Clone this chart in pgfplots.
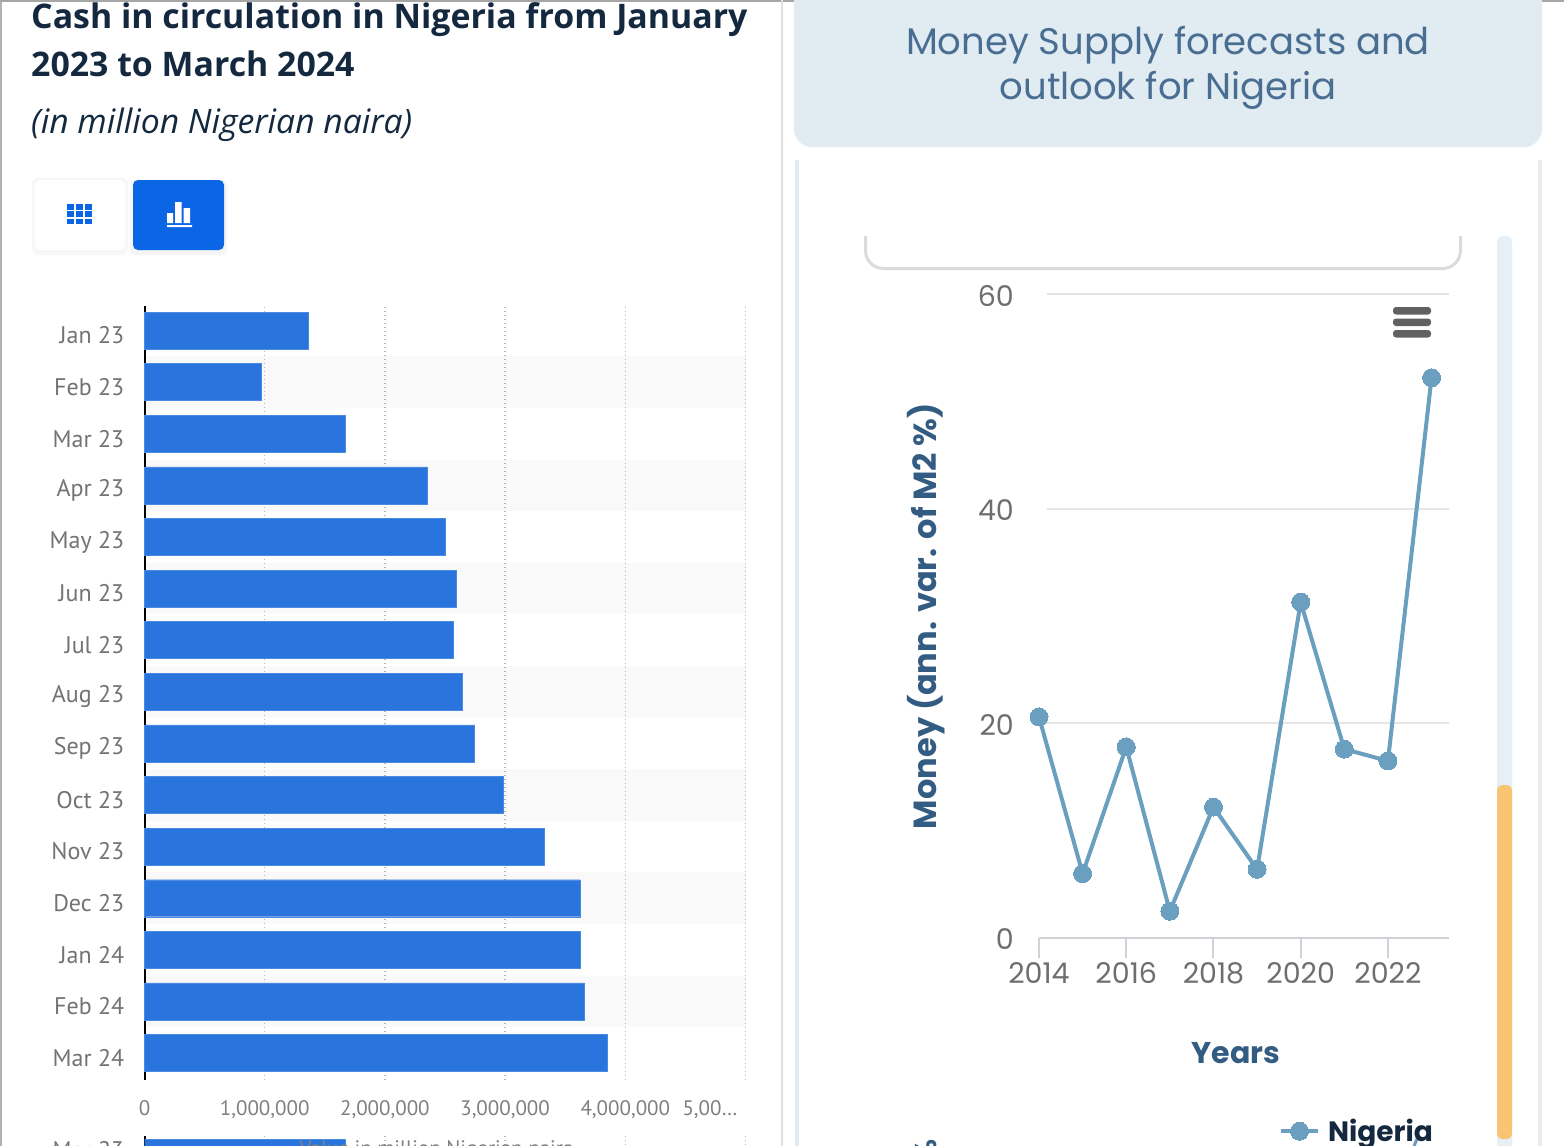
\documentclass[border=0pt]{standalone}
\usepackage{fontspec}
\setmainfont{Open Sans}
\newfontfamily\mont{Poppins}
\newfontfamily\rob{PT Sans}
\usepackage{pgfplots}
\pgfplotsset{compat=1.18}
\definecolor{navy}{HTML}{14293F}
\definecolor{barblue}{HTML}{2A75DD}
\definecolor{btnblue}{HTML}{0A66E4}
\definecolor{panel}{HTML}{E0EBF2}
\definecolor{titleblue}{HTML}{4A6E92}
\definecolor{labelblue}{HTML}{335C82}
\definecolor{linecol}{HTML}{6B9FBF}
\definecolor{tickgray}{HTML}{6E6E6E}
\definecolor{scrollorange}{HTML}{F8C471}
\newcommand{\fs}[1]{\fontsize{#1}{#1}\selectfont}
\pgfplotsset{
  cashaxis/.style={
    scale only axis, width=601pt,
    xmin=0, xmax=5000000,
    axis x line*=bottom, axis y line*=left,
    x axis line style={draw=none},
    y axis line style={black, line width=2pt, -},
    xtick={0,1000000,2000000,3000000,4000000,5000000},
    scaled x ticks=false,
    xmajorgrids,
    grid style={dash pattern=on 1.5pt off 2.5pt, line width=1.5pt, black!28},
    major tick length=0pt,
    xbar, bar width=37pt,
    tick label style={text=black!55},
    y tick label style={font=\rob\fs{24}, anchor=east, inner sep=0pt, xshift=-20pt},
  }
}
\begin{document}
\begin{tikzpicture}
\useasboundingbox (0pt,0pt) rectangle (1564pt,-1146pt);
\clip (0pt,0pt) rectangle (1564pt,-1146pt);
\fill[white] (0pt,0pt) rectangle (1564pt,-1146pt);

\begin{scope}[x=1pt,y=-1pt]
  % page frame
  \fill[black!30] (0,0) rectangle (1.5,1146);
  \fill[black!35] (0,0) rectangle (1564,1.5);
  \fill[black!12] (781,0) rectangle (782.5,1146);
  % titles
  \node[anchor=base west,inner sep=0,text=navy,font=\bfseries\fs{33.85}] at (31,28) {Cash in circulation in Nigeria from January};
  \node[anchor=base west,inner sep=0,text=navy,font=\bfseries\fs{33.85}] at (31,76) {2023 to March 2024};
  \node[anchor=base west,inner sep=0,text=navy,font=\itshape\fs{33.7}] at (31,133) {(in million Nigerian naira)};
  % toggle buttons
  \fill[black!3,rounded corners=6] (32,178) rectangle (128,255);
  \fill[white,rounded corners=6] (35,180) rectangle (125,250);
  \fill[black!4,rounded corners=6] (130,180) rectangle (227,255);
  \fill[btnblue,rounded corners=5] (133,180) rectangle (224,250);
  \foreach \i in {0,1,2}{\foreach \j in {0,1,2}{
    \fill[btnblue] (67+\i*9,204+\j*7.4) rectangle ++(7,5.6);}}
  \fill[white] (167,213) rectangle (173,223) (175,202) rectangle (181.5,223) (183.5,208) rectangle (190,223) (167,225) rectangle (192,227);
  % right panel
  \fill[panel,rounded corners=18] (794,-30) rectangle (1542,147);
  \node[anchor=base,inner sep=0,text=titleblue,font=\mont\fs{37}] at (1168,54) {Money Supply forecasts and};
  \node[anchor=base,inner sep=0,text=titleblue,font=\mont\fs{37}] at (1168,99) {outlook for Nigeria};
  \fill[panel] (795,160) rectangle (798.5,1146);
  \fill[blue!10!black!8] (1538,160) rectangle (1542,1146);
  \draw[black!14,line width=3pt,rounded corners=18] (865.5,236) -- (865.5,268.5) -- (1460.5,268.5) -- (1460.5,236);
  % scrollbar
  \fill[panel!80,rounded corners=5] (1497,236) rectangle (1512,1160);
  \fill[scrollorange,rounded corners=5] (1497,785) rectangle (1512,1139);
  % menu icon
  \foreach \y in {307,318.5,330}{\fill[black!62,rounded corners=3] (1393,\y) rectangle (1431,\y+7.5);}
  % cut-off pieces of the next chart down the page
  \node[rotate=90,inner sep=0,text=labelblue,font=\mont\bfseries\fs{30}] at (926,1152) {\%};
  \draw[linecol,line width=3pt] (1414,1146) -- (1417,1139);
\end{scope}

% repeated chart cut off at the bottom of the screenshot
\begin{axis}[cashaxis, at={(144.5pt,-1297pt)}, anchor=south west, height=161pt,
    ymin=-1.703, ymax=1.417, ytick={1}, yticklabels={Mar 23}, xticklabels={},
    y tick label style={yshift=7pt}]
  \addplot[fill=barblue, draw=barblue!85!white] coordinates {(1672000,1)};
\end{axis}

% cash in circulation
\begin{axis}[cashaxis, at={(144.5pt,-1080pt)}, anchor=south west, height=774pt,
    ymin=-0.523, ymax=14.475, ytick={0,...,14},
    yticklabels={Mar 24,Feb 24,Jan 24,Dec 23,Nov 23,Oct 23,Sep 23,Aug 23,Jul 23,Jun 23,May 23,Apr 23,Mar 23,Feb 23,Jan 23},
    y tick label style={yshift=-5pt},
    xticklabels={0,{1,000,000},{2,000,000},{3,000,000},{4,000,000},{\makebox[0pt][r]{5,00\ldots\hspace{8pt}}}},
    x tick label style={font=\rob\fs{21}, text=black!50, yshift=-17pt},
    xlabel={Value in million Nigerian naira},
    xlabel style={at={(axis description cs:0.486,0)}, anchor=north, yshift=-60pt, font=\rob\fs{21}, text=black!50, inner sep=0pt},
    clip=false]
  \pgfplotsinvokeforeach{1,3,...,13}{
    \fill[black, opacity=0.025] (axis cs:0,#1-0.5) rectangle (axis cs:5000000,#1+0.5);
  }
  \addplot[fill=barblue, draw=barblue!85!white] coordinates {
    (1364000,14) (973000,13) (1672000,12) (2354000,11) (2504000,10)
    (2596000,9) (2571000,8) (2646000,7) (2746000,6) (2987000,5)
    (3328000,4) (3627000,3) (3627000,2) (3661000,1) (3852000,0)
  };
\end{axis}

% money supply
\begin{axis}[at={(1039pt,-938pt)}, anchor=south west, scale only axis,
    width=410pt, height=644pt,
    xmin=2014, xmax=2023.4, ymin=0, ymax=60,
    axis x line*=bottom, axis y line*=left,
    x axis line style={color=blue!15!black!18, line width=2pt, -},
    y axis line style={draw=none},
    xtick={2014,2016,2018,2020,2022}, ytick={0,20,40,60},
    xtick style={draw=blue!15!black!18, line width=2pt},
    ytick style={draw=none},
    tick align=outside, major tick length=20pt,
    /pgf/number format/1000 sep={},
    /pgf/number format/assume math mode=true,
    tick label style={font=\mont\fs{28.5}, text=tickgray},
    x tick label style={inner sep=0pt, yshift=-4pt},
    y tick label style={inner sep=0pt, anchor=east, xshift=-5pt, yshift=-1.5pt},
    xlabel={Years}, ylabel={Money (ann. var. of M2 \%)},
    xlabel style={at={(axis description cs:0.48,0)}, anchor=center, yshift=-115pt, font=\mont\bfseries\fs{30}, text=labelblue},
    ylabel style={at={(axis description cs:0,0.5)}, rotate=0, anchor=center, yshift=113pt, font=\mont\bfseries\fs{32}, text=labelblue},
    clip=false,
    legend style={at={(0.585,-0.3)}, anchor=west, draw=none, fill=none, inner sep=0pt, font=\mont\bfseries\fs{28}, text=navy, /tikz/every even column/.append style={column sep=6pt}, nodes={inner xsep=8pt}},
    legend image code/.code={\draw[mark repeat=2,mark phase=2,#1] plot coordinates {(0cm,0cm)(0.65cm,0cm)(1.3cm,0cm)};},
  ]
  \foreach \v in {20,40,60}{
    \edef\tmp{\noexpand\draw[black!10,line width=2pt] (axis cs:2014.18,\v) -- (axis cs:2023.4,\v);}\tmp
  }
  \addplot[linecol, line width=4pt, mark=*, mark size=9pt, mark options={fill=linecol, draw=linecol, line width=0pt}] coordinates {
    (2014,20.6) (2015,6.0) (2016,17.8) (2017,2.5) (2018,12.2)
    (2019,6.4) (2020,31.3) (2021,17.6) (2022,16.5) (2023,52.2)
  };
  \addlegendentry{Nigeria}
\end{axis}
\end{tikzpicture}
\end{document}
